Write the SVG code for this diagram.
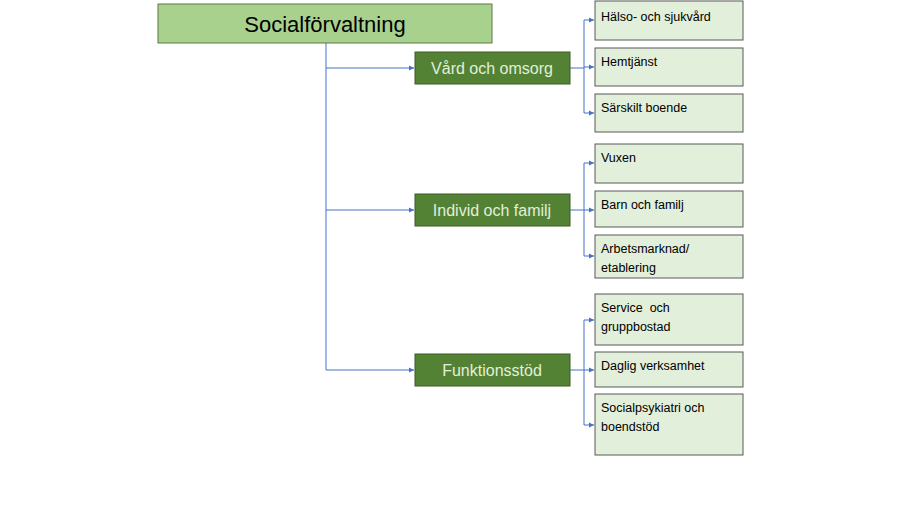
<svg xmlns="http://www.w3.org/2000/svg" width="900" height="506" viewBox="0 0 900 506">
<style>
.root{fill:#a9d18e;stroke:#5a7a45;stroke-width:1}
.mid{fill:#548235;stroke:#3a5a25;stroke-width:1}
.leaf{fill:#e2efda;stroke:#595959;stroke-width:1}
.mt{font-family:"Liberation Sans",Arial,sans-serif;font-size:16px;fill:#e2efda;text-anchor:middle}
.lt{font-family:"Liberation Sans",Arial,sans-serif;font-size:12.5px;fill:#000}
.c{fill:none;stroke:#4472c4;stroke-width:1}
</style>
<defs><marker id="a" markerWidth="6" markerHeight="6" refX="5" refY="3" orient="auto" markerUnits="userSpaceOnUse"><path d="M0,0.5 L5,3 L0,5.5z" fill="#4472c4"/></marker></defs>
<rect width="900" height="506" fill="#fff"/>
<g id="connectors">
<path class="c" d="M326,43 V370"/>
<path class="c" d="M326,68 H414" marker-end="url(#a)"/>
<path class="c" d="M326,210 H414" marker-end="url(#a)"/>
<path class="c" d="M326,370 H414" marker-end="url(#a)"/>
<path class="c" d="M570,68 H584 M584,20 V113"/>
<path class="c" d="M584,20 H594" marker-end="url(#a)"/>
<path class="c" d="M584,67 H594" marker-end="url(#a)"/>
<path class="c" d="M584,113 H594" marker-end="url(#a)"/>
<path class="c" d="M570,210 H584 M584,163 V256"/>
<path class="c" d="M584,163 H594" marker-end="url(#a)"/>
<path class="c" d="M584,210 H594" marker-end="url(#a)"/>
<path class="c" d="M584,256 H594" marker-end="url(#a)"/>
<path class="c" d="M570,370 H584 M584,320 V425"/>
<path class="c" d="M584,320 H594" marker-end="url(#a)"/>
<path class="c" d="M584,370 H594" marker-end="url(#a)"/>
<path class="c" d="M584,425 H594" marker-end="url(#a)"/>
</g>
<g id="root"><rect class="root" x="158" y="4" width="334" height="39"/><text x="325" y="32" font-family="Liberation Sans,Arial,sans-serif" font-size="22" text-anchor="middle" fill="#000">Socialförvaltning</text></g>
<g id="vard"><rect class="mid" x="415" y="52" width="155" height="32"/><text class="mt" x="492" y="74">Vård och omsorg</text></g>
<g id="individ"><rect class="mid" x="415" y="194" width="155" height="32"/><text class="mt" x="492" y="216">Individ och familj</text></g>
<g id="funk"><rect class="mid" x="415" y="354" width="155" height="32"/><text class="mt" x="492" y="376">Funktionsstöd</text></g>
<g id="halso"><rect class="leaf" x="595" y="1" width="148" height="39"/><text class="lt" x="601" y="21">Hälso- och sjukvård</text></g>
<g id="hemtjanst"><rect class="leaf" x="595" y="48" width="148" height="38"/><text class="lt" x="601" y="66">Hemtjänst</text></g>
<g id="sarskilt"><rect class="leaf" x="595" y="94" width="148" height="38"/><text class="lt" x="601" y="112">Särskilt boende</text></g>
<g id="vuxen"><rect class="leaf" x="595" y="144" width="148" height="39"/><text class="lt" x="601" y="162">Vuxen</text></g>
<g id="barn"><rect class="leaf" x="595" y="191" width="148" height="36"/><text class="lt" x="601" y="209">Barn och familj</text></g>
<g id="arbete"><rect class="leaf" x="595" y="235" width="148" height="43"/><text class="lt" x="601" y="253">Arbetsmarknad/</text><text class="lt" x="601" y="272">etablering</text></g>
<g id="service"><rect class="leaf" x="595" y="294" width="148" height="51"/><text class="lt" x="601" y="312" xml:space="preserve">Service  och</text><text class="lt" x="601" y="331">gruppbostad</text></g>
<g id="daglig"><rect class="leaf" x="595" y="352" width="148" height="35"/><text class="lt" x="601" y="370">Daglig verksamhet</text></g>
<g id="socpsyk"><rect class="leaf" x="595" y="394" width="148" height="61"/><text class="lt" x="601" y="412">Socialpsykiatri och</text><text class="lt" x="601" y="431">boendstöd</text></g>
</svg>
